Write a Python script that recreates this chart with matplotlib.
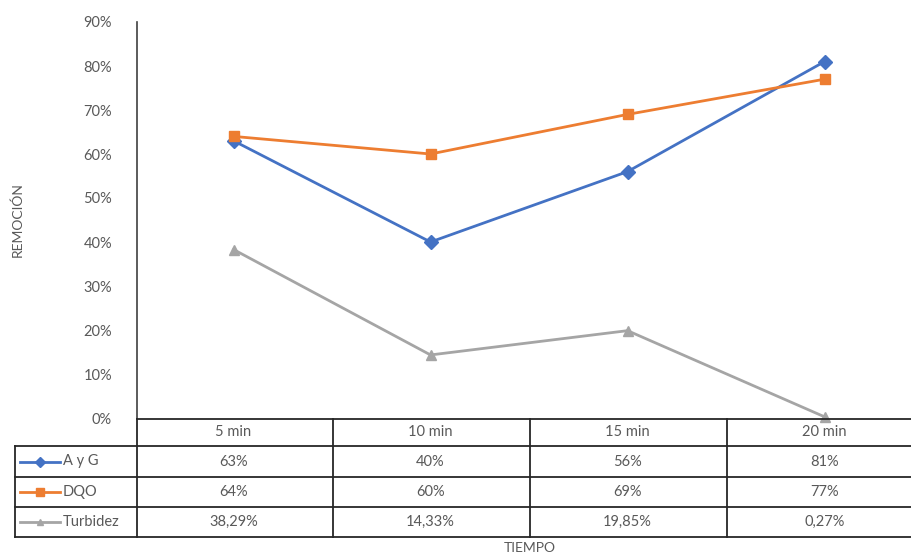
import matplotlib
matplotlib.use("Agg")
import matplotlib.pyplot as plt
from matplotlib.lines import Line2D
import matplotlib.transforms as mtransforms

categories = ["5 min", "10 min", "15 min", "20 min"]
ayg = [63, 40, 56, 81]
dqo = [64, 60, 69, 77]
turbidez = [38.29, 14.33, 19.85, 0.27]
ayg_labels = ["63%", "40%", "56%", "81%"]
dqo_labels = ["64%", "60%", "69%", "77%"]
turb_labels = ["38,29%", "14,33%", "19,85%", "0,27%"]
series_names = ["A y G", "DQO", "Turbidez"]
yticks = [0, 10, 20, 30, 40, 50, 60, 70, 80, 90]

plt.rcParams['font.family'] = ['Lato', 'DejaVu Sans']
W, H = 912, 558
fig = plt.figure(figsize=(W / 100, H / 100), dpi=100)

def fx(px):
    return px / W

def fy(py):
    return 1 - py / H

left_px, right_px, top_px, bot_px = 137, 925, 22, 418
ax = fig.add_axes([fx(left_px), fy(bot_px), fx(right_px) - fx(left_px), fy(top_px) - fy(bot_px)])

blue, orange, gray = "#4472C4", "#ED7D31", "#A5A5A5"
txt = "#595959"
x = list(range(len(categories)))
ax.plot(x, ayg, color=blue, lw=2, marker="D", ms=7, zorder=3, clip_on=False)
ax.plot(x, dqo, color=orange, lw=2, marker="s", ms=7.5, zorder=3, clip_on=False)
ax.plot(x, turbidez, color=gray, lw=2, marker="^", ms=7.5, zorder=3, clip_on=False)

ax.set_xlim(-0.49, 3.51)
ax.set_ylim(0, 90)
ax.set_yticks(yticks)
ax.set_yticklabels([f"{v}%" for v in yticks], color=txt, fontsize=10.5)
ax.tick_params(axis="y", length=0, pad=18)
ax.set_xticks([])
for s in ["top", "right", "bottom"]:
    ax.spines[s].set_visible(False)
ax.spines["left"].set_color("#404040")
ax.spines["left"].set_linewidth(1.2)

# table
line_c = "#262626"
rows_px = [419, 446, 477, 507, 537]
col_px = [137, 333, 530, 727, 927]
legend_left = 15

def hline(y, x0, x1, lw=1.3):
    fig.add_artist(Line2D([fx(x0), fx(x1)], [fy(y), fy(y)], color=line_c, lw=lw))

def vline(x, y0, y1, lw=1.3):
    fig.add_artist(Line2D([fx(x), fx(x)], [fy(y0), fy(y1)], color=line_c, lw=lw))

hline(rows_px[0], col_px[0], W + 20)
for y in rows_px[1:]:
    hline(y, legend_left, W + 20)
for xp in col_px[:-1]:
    vline(xp, rows_px[0], rows_px[-1])
vline(legend_left, rows_px[1], rows_px[-1])

trans = mtransforms.blended_transform_factory(ax.transData, fig.transFigure)
for i, c in enumerate(categories):
    ax.text(i, (fy(rows_px[0]) + fy(rows_px[1])) / 2, c, transform=trans,
            ha="center", va="center", color=txt, fontsize=10.5)
row_labels = [ayg_labels, dqo_labels, turb_labels]
colors = [blue, orange, gray]
markers = ["D", "s", "^"]
for r, (labels, col, mk, name) in enumerate(zip(row_labels, colors, markers, series_names)):
    yc = (fy(rows_px[r + 1]) + fy(rows_px[r + 2])) / 2
    for i, lab in enumerate(labels):
        ax.text(i, yc, lab, transform=trans, ha="center", va="center", color=txt, fontsize=10.5)
    fig.add_artist(Line2D([fx(20), fx(60)], [yc, yc], color=col, lw=2))
    fig.add_artist(Line2D([fx(40)], [yc], color=col, marker=mk, ms=5 if mk != "s" else 6, lw=0))
    fig.text(fx(63), yc, name, ha="left", va="center", color=txt, fontsize=10.5)

fig.text(fx(530), fy(548), "TIEMPO", ha="center", va="center", color=txt, fontsize=10)
fig.text(fx(18), fy(220), "REMOCIÓN", ha="center", va="center", rotation=90, color=txt, fontsize=10)

fig.savefig("out.png", dpi=100)
